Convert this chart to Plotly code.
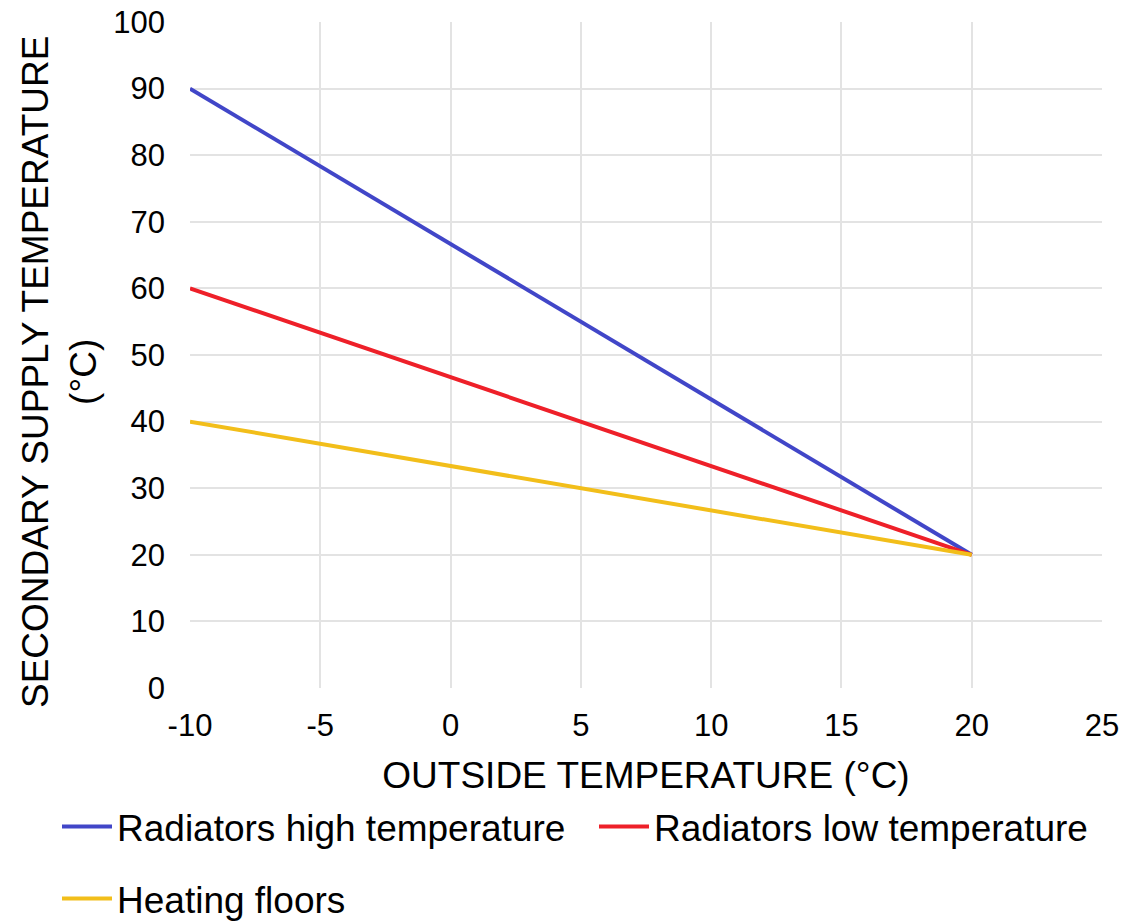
import plotly.graph_objects as go

outside_temp = [-10, 20]
radiators_high = [90, 20]
radiators_low = [60, 20]
heating_floors = [40, 20]

x_tick_values = [-10, -5, 0, 5, 10, 15, 20, 25]
x_tick_labels = ["-10", "-5", "0", "5", "10", "15", "20", "25"]

FONT = "Liberation Sans, Arial, sans-serif"
W, H = 1132, 921

fig = go.Figure()
fig.add_trace(go.Scatter(x=outside_temp, y=radiators_high, mode="lines",
                         name="Radiators high temperature",
                         line=dict(color="#4146C8", width=4), legend="legend"))
fig.add_trace(go.Scatter(x=outside_temp, y=radiators_low, mode="lines",
                         name="Radiators low temperature",
                         line=dict(color="#EE2029", width=4), legend="legend2"))
fig.add_trace(go.Scatter(x=outside_temp, y=heating_floors, mode="lines",
                         name="Heating floors",
                         line=dict(color="#F2BE1A", width=4), legend="legend3"))

grid = "#E3E3E3"


def leg(px, py):
    return dict(orientation="h", xref="container", yref="container",
                x=px / W, y=1 - py / H, xanchor="left", yanchor="top",
                font=dict(size=37), itemwidth=50, bgcolor="rgba(0,0,0,0)")


fig.update_layout(
    width=W, height=H,
    margin=dict(l=190, r=30, t=22, b=233),
    paper_bgcolor="white", plot_bgcolor="white",
    font=dict(family=FONT, color="black", size=31),
    xaxis=dict(range=[-10, 25], tickvals=x_tick_values, ticktext=x_tick_labels,
               showgrid=True, gridcolor=grid, gridwidth=2, automargin=False,
               zeroline=False, showline=False, ticks="", ticklabelstandoff=16,
               tickfont=dict(size=31), ticklabeloverflow="allow",
               title=dict(text="OUTSIDE TEMPERATURE (°C)", font=dict(size=37), standoff=20)),
    yaxis=dict(range=[0, 100], dtick=10, showgrid=True, gridcolor=grid, gridwidth=2,
               automargin=False, ticklabeloverflow="allow",
               zeroline=False, showline=False, ticks="", ticklabelstandoff=24,
               tickfont=dict(size=31)),
    legend=leg(57, 796),
    legend2=leg(594, 796),
    legend3=leg(57, 868),
    showlegend=True,
    annotations=[dict(text="SECONDARY SUPPLY TEMPERATURE<br>(°C)", textangle=-90,
                      xref="paper", yref="paper", x=(59 - 190) / 912, y=(688 - 372) / 666,
                      xanchor="center", yanchor="middle", showarrow=False,
                      font=dict(size=37, family=FONT, color="black"))],
)

fig.write_html("out.html", config={"displayModeBar": False},
               post_script="document.body.style.margin='0';document.body.style.overflow='hidden';")
